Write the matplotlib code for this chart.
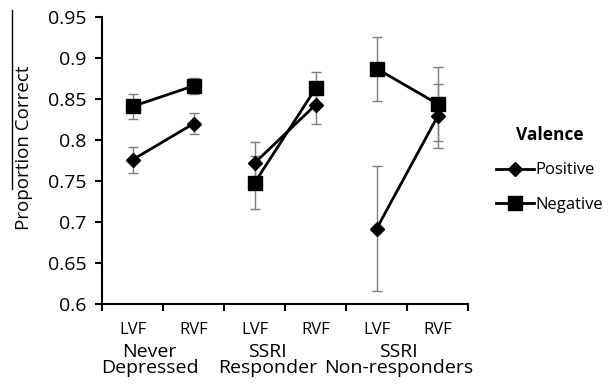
import matplotlib
matplotlib.use("Agg")
import matplotlib.pyplot as plt
from matplotlib.lines import Line2D

plt.rcParams['font.family'] = ['Open Sans', 'DejaVu Sans']

# data
fields = ['LVF', 'RVF', 'LVF', 'RVF', 'LVF', 'RVF']
groups = ['Never\nDepressed', 'SSRI\nResponder', 'SSRI\nNon-responders']
positive_mean = [0.776, 0.820, 0.772, 0.843, 0.692, 0.829]
positive_err = [0.016, 0.013, 0.025, 0.023, 0.076, 0.039]
negative_mean = [0.841, 0.866, 0.748, 0.863, 0.887, 0.844]
negative_err = [0.015, 0.010, 0.032, 0.020, 0.039, 0.045]
yticks = [0.6, 0.65, 0.7, 0.75, 0.8, 0.85, 0.9, 0.95]

fig = plt.figure(figsize=(6.08, 3.85), dpi=100)
ax = fig.add_axes([0.168, 0.21, 0.602, 0.746])

x = list(range(len(fields)))

# error bars first, grey, behind the lines
ax.errorbar(x, positive_mean, yerr=positive_err, fmt='none', ecolor='#7f7f7f',
            elinewidth=1, capsize=3.5, capthick=1, zorder=1)
ax.errorbar(x, negative_mean, yerr=negative_err, fmt='none', ecolor='#7f7f7f',
            elinewidth=1, capsize=3.5, capthick=1, zorder=1)

# each group is its own LVF-RVF pair
for g in range(len(groups)):
    xs = x[2 * g:2 * g + 2]
    ax.plot(xs, positive_mean[2 * g:2 * g + 2], color='black', lw=2,
            marker='D', ms=7.5, zorder=3)
    ax.plot(xs, negative_mean[2 * g:2 * g + 2], color='black', lw=2,
            marker='s', ms=10, zorder=3)

ax.set_xlim(-0.5, len(fields) - 0.5)
ax.set_ylim(0.6, 0.95)
ax.set_yticks(yticks)
ax.set_yticklabels(['0.6', '0.65', '0.7', '0.75', '0.8', '0.85', '0.9', '0.95'])
ax.set_xticks(x)
ax.set_xticklabels(fields, fontsize=12)
ax.set_xticks([i - 0.5 for i in range(len(fields) + 1)], minor=True)
ax.tick_params(axis='x', which='major', length=0, pad=13)
ax.tick_params(axis='x', which='minor', length=5, width=1.5)
ax.tick_params(axis='y', length=5, width=1.5, labelsize=14, pad=6)
for s in ['top', 'right']:
    ax.spines[s].set_visible(False)
for s in ['left', 'bottom']:
    ax.spines[s].set_linewidth(1.5)

# group names sit a little left of their pair, as in the source
shift = [-0.22, -0.29, -0.14]
for g, name in enumerate(groups):
    ax.text(2 * g + 0.5 + shift[g], -0.136, name, transform=ax.get_xaxis_transform(),
            ha='center', va='top', fontsize=14, linespacing=0.85)

ax.set_ylabel('Proportion Correct', fontsize=13.5)
ax.yaxis.set_label_coords(-0.19, 0.545)

handles = [Line2D([], [], color='black', lw=2, marker='D', ms=7.5),
           Line2D([], [], color='black', lw=2, marker='s', ms=10)]
leg = fig.legend(handles, ['Positive', 'Negative'], title='Valence',
                 loc='center left', bbox_to_anchor=(0.815, 0.56), frameon=False,
                 borderpad=0, borderaxespad=0,
                 fontsize=12, title_fontproperties={'weight': 'bold', 'size': 12.5},
                 handlelength=2.3, handletextpad=0.1, labelspacing=1.1)

# stray rule at the left edge of the source image
fig.add_artist(Line2D([0.02, 0.02], [0.975, 0.51], color='black', lw=1))

fig.savefig('out.png', dpi=100)
